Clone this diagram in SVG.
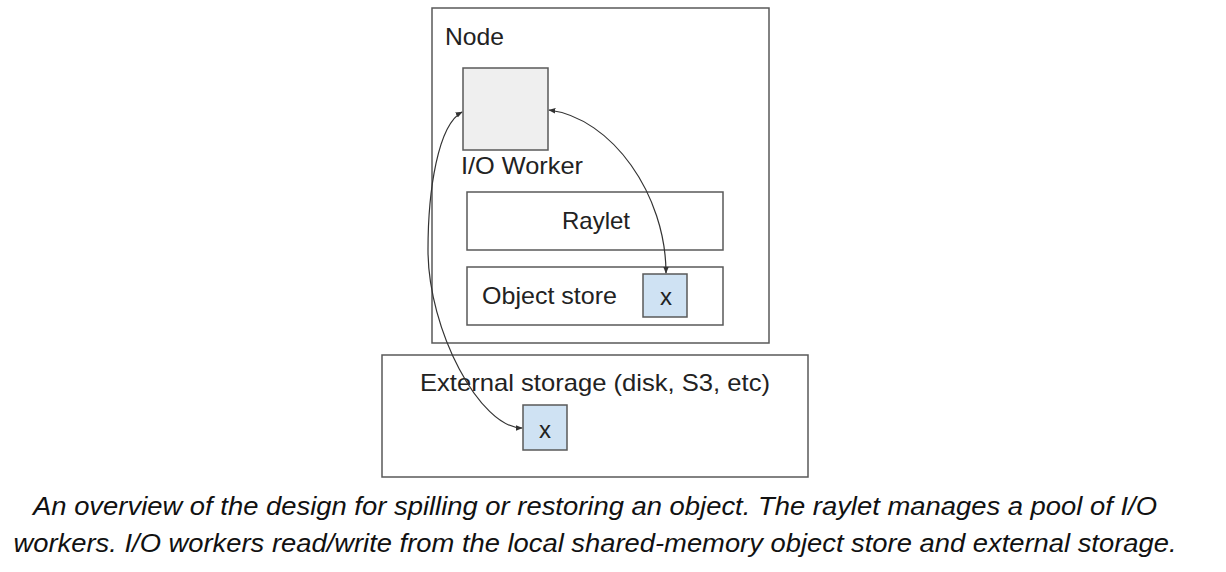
<svg xmlns="http://www.w3.org/2000/svg" width="1226" height="572" viewBox="0 0 1226 572">
<style>
.box{fill:#fff;stroke:#595959;stroke-width:1.5}
.lbl{font-family:"Liberation Sans",Arial,sans-serif;font-size:24px;fill:#222}
.cap{font-family:"Liberation Sans",Arial,sans-serif;font-size:25px;font-style:italic;fill:#111;text-anchor:middle}
.conn{fill:none;stroke:#333;stroke-width:1.2}
</style>
<defs>
<marker id="ah" viewBox="0 0 10 10" refX="9" refY="5" markerWidth="7" markerHeight="7" orient="auto-start-reverse" markerUnits="userSpaceOnUse">
<path d="M0,1 L10,5 L0,9 z" fill="#333"/>
</marker>
</defs>
<rect width="1226" height="572" fill="#fff"/>
<g id="node">
<rect class="box" x="432" y="8" width="337" height="335"/>
<text class="lbl" x="445" y="45" textLength="59" lengthAdjust="spacingAndGlyphs">Node</text>
</g>
<g id="io-worker">
<rect x="463" y="68" width="85" height="82" fill="#efefef" stroke="#595959" stroke-width="1.5"/>
<text class="lbl" x="461" y="174" textLength="122" lengthAdjust="spacingAndGlyphs">I/O Worker</text>
</g>
<g id="raylet">
<rect class="box" x="467" y="192" width="256" height="58"/>
<text class="lbl" x="596" y="229" text-anchor="middle">Raylet</text>
</g>
<g id="object-store">
<rect class="box" x="467" y="267" width="256" height="58"/>
<text class="lbl" x="482" y="304" textLength="135" lengthAdjust="spacingAndGlyphs">Object store</text>
</g>
<g id="store-x">
<rect x="643" y="274" width="44" height="43" fill="#cfe2f3" stroke="#595959" stroke-width="1.5"/>
<text class="lbl" x="666" y="305" text-anchor="middle">x</text>
</g>
<g id="external-storage">
<rect class="box" x="382" y="355" width="426" height="122"/>
<text class="lbl" x="595" y="391" text-anchor="middle" textLength="350" lengthAdjust="spacingAndGlyphs">External storage (disk, S3, etc)</text>
</g>
<g id="external-x">
<rect x="523" y="405" width="44" height="45" fill="#cfe2f3" stroke="#595959" stroke-width="1.5"/>
<text class="lbl" x="545" y="438" text-anchor="middle">x</text>
</g>
<g id="connectors">
<path class="conn" d="M549,110 C612,118 666,195 666,273" marker-start="url(#ah)" marker-end="url(#ah)"/>
<path class="conn" d="M462,112 C438,125 428,190 428,250 C428,330 480,428 522,428" marker-start="url(#ah)" marker-end="url(#ah)"/>
</g>
<g id="caption">
<text class="cap" x="595" y="515" textLength="1124" lengthAdjust="spacingAndGlyphs">An overview of the design for spilling or restoring an object. The raylet manages a pool of I/O</text>
<text class="cap" x="595" y="552" textLength="1163" lengthAdjust="spacingAndGlyphs">workers. I/O workers read/write from the local shared-memory object store and external storage.</text>
</g>
</svg>
